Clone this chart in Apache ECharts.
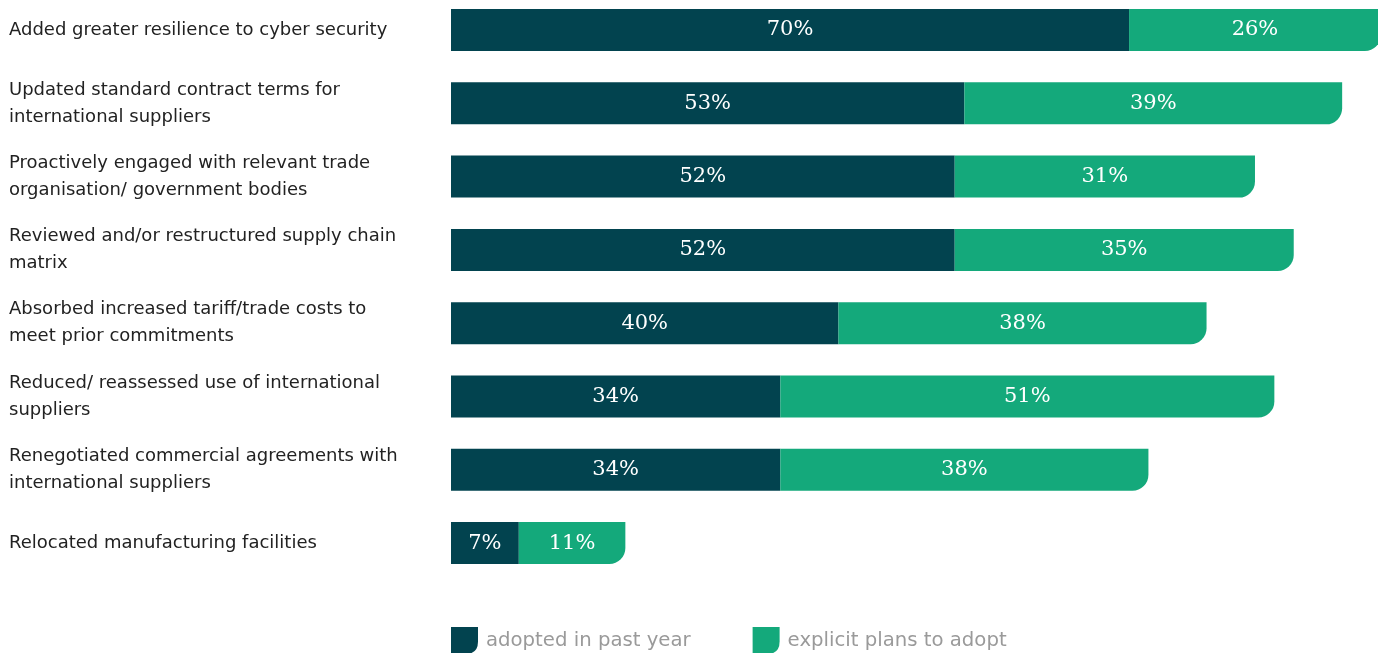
<!DOCTYPE html>
<html>
<head>
<meta charset="utf-8">
<script src="https://cdn.jsdelivr.net/npm/echarts@6/dist/echarts.min.js"></script>
<style>html,body{margin:0;padding:0;background:#fff}#c{width:1378px;height:653px}</style>
</head>
<body>
<div id="c"></div>
<script>
const categories = [
  "Added greater resilience to cyber security",
  "Updated standard contract terms for\ninternational suppliers",
  "Proactively engaged with relevant trade\norganisation/ government bodies",
  "Reviewed and/or restructured supply chain\nmatrix",
  "Absorbed increased tariff/trade costs to\nmeet prior commitments",
  "Reduced/ reassessed use of international\nsuppliers",
  "Renegotiated commercial agreements with\ninternational suppliers",
  "Relocated manufacturing facilities"
];
const adoptedPastYear = [70, 53, 52, 52, 40, 34, 34, 7];
const explicitPlans = [26, 39, 31, 35, 38, 51, 38, 11];
const seriesNames = ["adopted in past year", "explicit plans to adopt"];

const chart = echarts.init(document.getElementById('c'));
const labelStyle = {
  show: true, position: 'inside', color: '#ffffff',
  fontFamily: 'DejaVu Serif', fontSize: 21,
  formatter: p => p.value + '%'
};
chart.setOption({
  animation: false,
  grid: { left: 451, width: 927, top: -6.6, height: 586.3, outerBoundsMode: 'none', containLabel: false },
  xAxis: { type: 'value', min: 0, max: 95.7, show: false },
  yAxis: {
    type: 'category', data: categories, inverse: true,
    axisLine: { show: false }, axisTick: { show: false }, splitLine: { show: false },
    axisLabel: {
      align: 'left', margin: 442, color: '#222222',
      fontFamily: 'DejaVu Sans', fontSize: 18, lineHeight: 27,
      padding: [0, 0, 2, 0]
    }
  },
  legend: {
    left: 451, top: 627, padding: 0, itemWidth: 27, itemHeight: 27, itemGap: 62,
    icon: 'path://M0,0 L26,0 L26,14 Q26,26 14,26 L0,26 Z',
    textStyle: { color: '#9a9a9a', fontFamily: 'DejaVu Sans', fontSize: 19.7, padding: [0, 0, 0, 3] },
    data: seriesNames
  },
  series: [
    {
      name: seriesNames[0], type: 'bar', stack: 's', barWidth: 42, clip: false,
      data: adoptedPastYear,
      itemStyle: { color: '#02434F' },
      label: labelStyle
    },
    {
      name: seriesNames[1], type: 'bar', stack: 's', barWidth: 42, clip: false,
      data: explicitPlans,
      itemStyle: { color: '#14A97B', borderRadius: [0, 0, 16, 0] },
      label: labelStyle
    }
  ]
});
</script>
</body>
</html>
